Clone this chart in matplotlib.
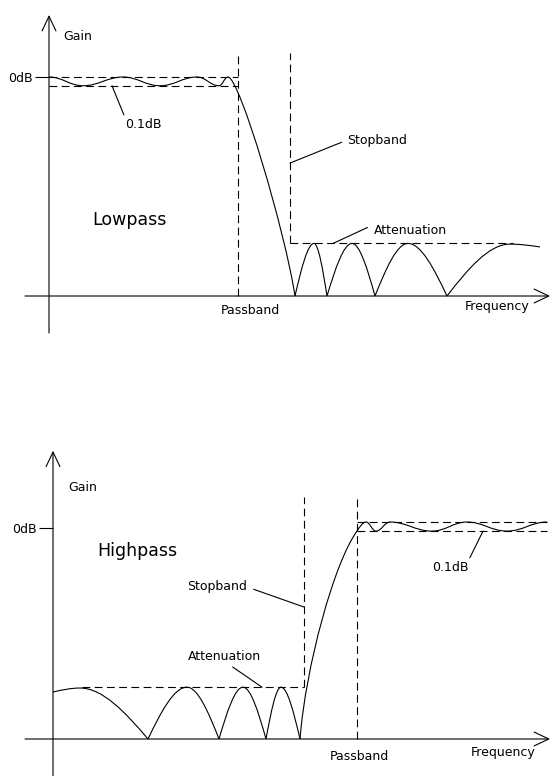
import matplotlib
matplotlib.use("Agg")
import matplotlib.pyplot as plt
from matplotlib.path import Path
from matplotlib.patches import PathPatch

plt.rcParams['font.family'] = ['DejaVu Sans']

# ---- lowpass response (frequency units, gain: 0dB = 1.0) ----
lp_ripple_f = [0, 6.8, 14.8, 22.2, 29.6, 34.0, 35.8]
lp_ripple_g = [1.0, 0.96, 1.0, 0.96, 1.0, 0.96, 1.0]
lp_stop_f = [49.2, 53.0, 55.6, 60.6, 65.2, 71.8, 79.6, 92.2, 98.2]
lp_stop_g = [0, 0.24, 0, 0.24, 0, 0.24, 0, 0.237, 0.224]
lp_pass_edge = 37.8
lp_stop_edge = 48.2
lp_ripple_hi, lp_ripple_lo = 1.0, 0.96
lp_atten = 0.24
lp_atten_end = 92.8

# ---- highpass response ----
hp_stop_f = [0, 5.4, 19.0, 26.8, 33.2, 38.0, 42.6, 45.6, 49.4]
hp_stop_g = [0.222, 0.241, 0, 0.245, 0, 0.245, 0, 0.245, 0]
hp_ripple_f = [60.8, 62.6, 64.6, 67.4, 75.8, 82.8, 90.8, 98.8]
hp_ripple_g = [0.983, 1.026, 0.983, 1.026, 0.983, 1.026, 0.983, 1.026]
hp_pass_edge = 60.8
hp_stop_edge = 50.2
hp_ripple_hi, hp_ripple_lo = 1.026, 0.983
hp_atten = 0.245
hp_atten_start = 5.8
hp_band_end = 98.8

LW = 0.8
DASH = (0, (7, 4))
FS = 9


def bezier(ax, f, g, kinds):
    # one cubic segment per pair of key points, shape picked by kind
    verts = [(f[0], g[0])]
    codes = [Path.MOVETO]
    for i, k in enumerate(kinds):
        x0, y0, x1, y1 = f[i], g[i], f[i + 1], g[i + 1]
        dx, dy = x1 - x0, y1 - y0
        if k == 'flat':
            c = [(x0 + .4 * dx, y0), (x1 - .4 * dx, y1)]
        elif k == 'up':
            c = [(x0 + .334 * dx, y0 + .525 * dy), (x0 + .666 * dx, y1)]
        elif k == 'down':
            c = [(x0 + .334 * dx, y0), (x0 + .666 * dx, y0 + .475 * dy)]
        elif k == 'edge_down':
            c = [(x0 + .17 * dx, y0), (x0 + .85 * dx, y0 + .7 * dy)]
        else:  # edge_up
            c = [(x0 + .1 * dx, y0 + .35 * dy), (x0 + .6 * dx, y0 + .85 * dy)]
        verts += c + [(x1, y1)]
        codes += [Path.CURVE4] * 3
    ax.add_patch(PathPatch(Path(verts, codes), fill=False, lw=LW, color='k'))


def axes_frame(ax, xlim, ylim, xaxis, yaxis):
    ax.set_xlim(xlim)
    ax.set_ylim(ylim)
    for s in ax.spines.values():
        s.set_visible(False)
    ax.spines['left'].set_position(('data', 0))
    ax.set_xticks([])
    ax.set_yticks([1.0])
    ax.set_yticklabels(['0dB'])
    ax.tick_params(axis='y', length=10, width=LW, direction='out', pad=1.5,
                   labelsize=FS)
    arrow = dict(arrowstyle='->,head_length=1.05,head_width=0.5', lw=LW,
                 color='k', shrinkA=0, shrinkB=0)
    ax.annotate('', xy=(0, yaxis[1]), xytext=(0, yaxis[0]), arrowprops=arrow,
                annotation_clip=False)
    ax.annotate('', xy=(xaxis[1], 0), xytext=(xaxis[0], 0), arrowprops=arrow,
                annotation_clip=False)


def leader(ax, label, xy, xytext, ha, relpos, shrink=0):
    ax.annotate(label, xy=xy, xytext=xytext, ha=ha, va='center', fontsize=FS,
                arrowprops=dict(arrowstyle='-', lw=LW, color='k',
                                relpos=relpos, shrinkA=shrink, shrinkB=0))


fig = plt.figure(figsize=(5.51, 7.76), dpi=100)

# ================= LOWPASS =================
ax = fig.add_axes([0, 1 - 345 / 776, 1, 345 / 776])
axes_frame(ax, (-9.8, 100.4), (-0.2237, 1.3516), (-4.8, 100.2), (-0.169, 1.283))

bezier(ax, lp_ripple_f, lp_ripple_g, ['flat'] * 6)
bezier(ax, [lp_ripple_f[-1], lp_stop_f[0]], [lp_ripple_g[-1], lp_stop_g[0]],
       ['edge_down'])
bezier(ax, lp_stop_f, lp_stop_g, ['up', 'down'] * 4)

ax.plot([0, lp_pass_edge], [lp_ripple_hi] * 2, 'k', lw=LW, ls=DASH)
ax.plot([0, lp_pass_edge], [lp_ripple_lo] * 2, 'k', lw=LW, ls=DASH)
ax.plot([lp_pass_edge] * 2, [0, 1.10], 'k', lw=LW, ls=DASH)
ax.plot([lp_stop_edge] * 2, [lp_atten, 1.11], 'k', lw=LW, ls=DASH)
ax.plot([lp_stop_edge, lp_atten_end], [lp_atten] * 2, 'k', lw=LW, ls=DASH)

ax.text(2.8, 1.183, 'Gain', fontsize=FS, ha='left', va='center')
ax.text(8.6, 0.347, 'Lowpass', fontsize=12.5, ha='left', va='center')
ax.text(40.2, -0.064, 'Passband', fontsize=FS, ha='center', va='center')
ax.text(89.6, -0.050, 'Frequency', fontsize=FS, ha='center', va='center')
leader(ax, '0.1dB', (12.6, lp_ripple_lo), (15.2, 0.785), 'left', (0, 1))
leader(ax, 'Stopband', (lp_stop_edge, 0.607), (59.6, 0.712), 'left', (0, 0.5), 2)
leader(ax, 'Attenuation', (56.8, lp_atten), (65.0, 0.297), 'left', (0, 1), 3)

# ================= HIGHPASS =================
ax = fig.add_axes([0, 0, 1, 376 / 776])
axes_frame(ax, (-10.6, 99.6), (-0.175, 1.603), (-5.6, 99.4), (-0.2, 1.363))

bezier(ax, hp_stop_f, hp_stop_g, ['up'] + ['down', 'up'] * 3 + ['down'])
bezier(ax, [hp_stop_f[-1], hp_ripple_f[0]], [hp_stop_g[-1], hp_ripple_g[0]],
       ['edge_up'])
bezier(ax, hp_ripple_f, hp_ripple_g, ['up'] + ['flat'] * 6)

ax.plot([hp_pass_edge, hp_band_end], [hp_ripple_hi] * 2, 'k', lw=LW, ls=DASH)
ax.plot([hp_pass_edge, hp_band_end], [hp_ripple_lo] * 2, 'k', lw=LW, ls=DASH)
ax.plot([hp_pass_edge] * 2, [0, 1.137], 'k', lw=LW, ls=DASH)
ax.plot([hp_stop_edge] * 2, [hp_atten, 1.142], 'k', lw=LW, ls=DASH)
ax.plot([hp_atten_start, hp_stop_edge], [hp_atten] * 2, 'k', lw=LW, ls=DASH)

ax.text(3.0, 1.191, 'Gain', fontsize=FS, ha='left', va='center')
ax.text(8.8, 0.889, 'Highpass', fontsize=12.5, ha='left', va='center')
ax.text(61.2, -0.085, 'Passband', fontsize=FS, ha='center', va='center')
ax.text(90.0, -0.066, 'Frequency', fontsize=FS, ha='center', va='center')
leader(ax, 'Stopband', (hp_stop_edge, 0.624), (38.8, 0.719), 'right', (1, 0.5), 3)
leader(ax, 'Attenuation', (41.8, hp_atten), (27.0, 0.388), 'left', (0.54, 0), 1)
leader(ax, '0.1dB', (86.0, hp_ripple_lo), (75.8, 0.813), 'left', (1, 1))

fig.savefig('out.png', dpi=100)
